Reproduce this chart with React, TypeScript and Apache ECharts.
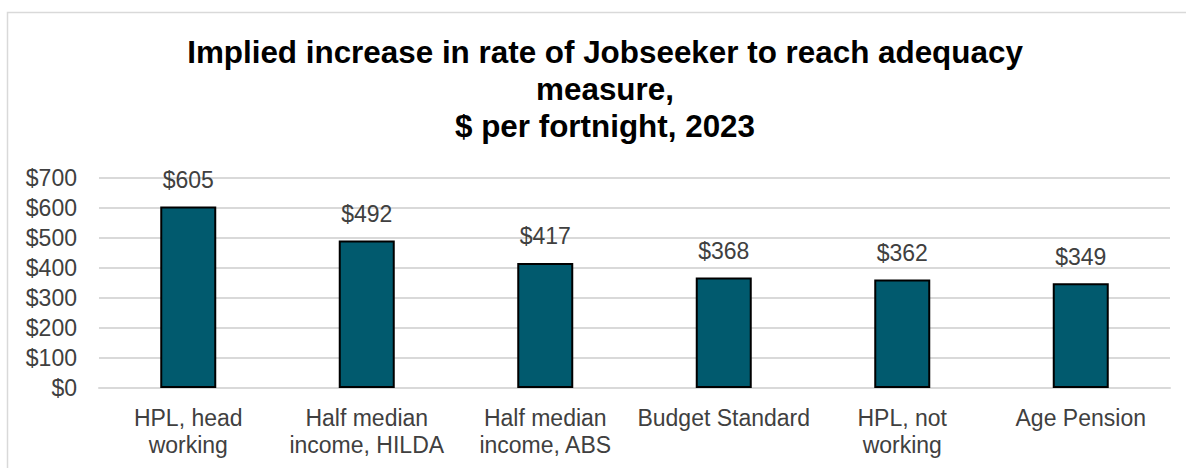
import React, { useEffect, useRef } from "react";
import * as echarts from "echarts";

const categories = [
  "HPL, head\nworking",
  "Half median\nincome, HILDA",
  "Half median\nincome, ABS",
  "Budget Standard",
  "HPL, not\nworking",
  "Age Pension",
];
const values = [605, 492, 417, 368, 362, 349];
const titleText =
  "Implied increase in rate of Jobseeker to reach adequacy\nmeasure,\n$ per fortnight, 2023";

const FONT = "'Liberation Sans', Arial, sans-serif";

export default function App() {
  const ref = useRef<HTMLDivElement>(null);
  useEffect(() => {
    document.body.style.margin = "0";
    const chart = echarts.init(ref.current!, null, { renderer: "svg" });
    chart.setOption({
      animation: false,
      backgroundColor: "#ffffff",
      textStyle: { fontFamily: FONT },
      title: {
        text: titleText,
        left: 605,
        top: 33.5,
        padding: 0,
        textAlign: "center",
        textStyle: {
          fontFamily: FONT,
          fontSize: 31.4,
          fontWeight: "bold",
          color: "#000000",
          lineHeight: 37,
        },
      },
      graphic: [
        {
          type: "rect",
          shape: { x: 7.5, y: 12.5, width: 1300, height: 600 },
          style: { fill: "none", stroke: "#d9d9d9", lineWidth: 1.5 },
          silent: true,
          z: -1,
        },
      ],
      grid: { left: 99, right: 16, top: 178, bottom: 80, containLabel: false },
      xAxis: {
        type: "category",
        data: categories,
        axisTick: { show: false },
        axisLine: { show: true, lineStyle: { color: "#d9d9d9", width: 2 } },
        axisLabel: {
          interval: 0,
          margin: 16.5,
          fontFamily: FONT,
          fontSize: 23,
          lineHeight: 27,
          color: "#404040",
        },
      },
      yAxis: {
        type: "value",
        min: 0,
        max: 700,
        interval: 100,
        axisLine: { show: false },
        axisTick: { show: false },
        splitLine: { lineStyle: { color: "#d9d9d9", width: 2 } },
        axisLabel: {
          margin: 22,
          fontFamily: FONT,
          fontSize: 23,
          color: "#404040",
          formatter: (v: number) => "$" + v,
        },
      },
      series: [
        {
          type: "bar",
          data: values,
          barWidth: 56,
          itemStyle: { color: "#015A6E", borderColor: "#000000", borderWidth: 2 },
          label: {
            show: true,
            position: "top",
            distance: 15,
            fontFamily: FONT,
            fontSize: 23,
            lineHeight: 23,
            color: "#404040",
            formatter: (p: any) => "$" + p.value,
          },
        },
      ],
    });
    return () => chart.dispose();
  }, []);
  return <div ref={ref} style={{ width: 1186, height: 468 }} />;
}
